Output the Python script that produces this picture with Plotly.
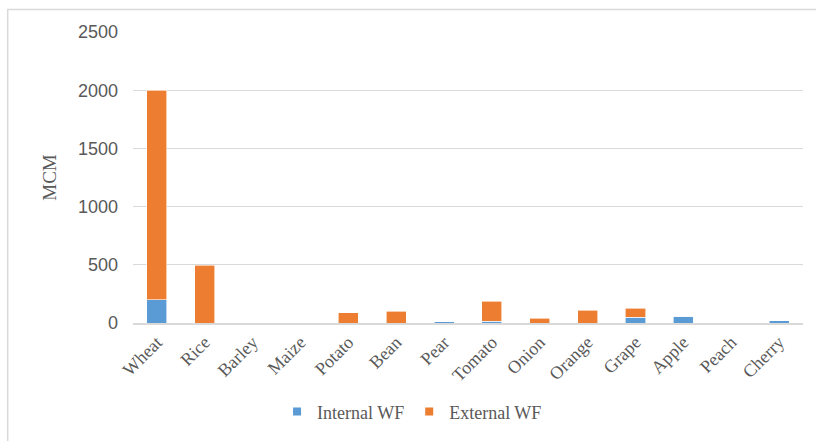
import plotly.graph_objects as go

crops = ["Wheat", "Rice", "Barley", "Maize", "Potato", "Bean", "Pear",
         "Tomato", "Onion", "Orange", "Grape", "Apple", "Peach", "Cherry"]
internal_wf = [200, 0, 0, 0, 0, 0, 10, 15, 0, 0, 50, 58, 0, 19]
external_wf = [1800, 495, 0, 0, 88, 102, 0, 170, 41, 110, 75, 0, 0, 0]
y_ticks = [0, 500, 1000, 1500, 2000, 2500]

serif = "Liberation Serif, Times New Roman, serif"
sans = "Liberation Sans, Arial, sans-serif"
blue = "#5B9BD5"
orange = "#ED7D31"

fig = go.Figure()
fig.add_trace(go.Bar(x=crops, y=internal_wf, name="Internal WF", showlegend=False,
                     marker=dict(color=blue, line=dict(color="#ffffff", width=0.6))))
fig.add_trace(go.Bar(x=crops, y=external_wf, name="External WF", showlegend=False,
                     marker=dict(color=orange, line=dict(color="#ffffff", width=0.6))))
# legend entries drawn as small square markers
for name, col in [("Internal WF", blue), ("External WF", orange)]:
    fig.add_trace(go.Scatter(x=[None], y=[None], mode="markers", name=name,
                             marker=dict(symbol="square", size=8, color=col)))

fig.update_layout(
    barmode="stack",
    bargap=0.58,
    width=816, height=441,
    margin=dict(l=133, r=13, t=32, b=117),
    paper_bgcolor="white", plot_bgcolor="white",
    showlegend=True,
    legend=dict(orientation="h", x=0.215, xanchor="left", y=-0.301, yanchor="middle",
                font=dict(family=serif, size=18, color="#595959"),
                itemwidth=30, traceorder="normal"),
    xaxis=dict(tickangle=-45, tickfont=dict(family=serif, size=18, color="#595959"),
               showgrid=False, showline=True, linecolor="#D9D9D9", linewidth=1.5,
               ticks=""),
    yaxis=dict(range=[0, 2500], tickvals=y_ticks, showgrid=True, gridcolor="#D9D9D9",
               gridwidth=1, zeroline=False, showline=False,
               tickfont=dict(family=sans, size=18, color="#595959"),
               ticklabelstandoff=14,
               title=dict(text="MCM", font=dict(family=serif, size=19, color="#595959"),
                          standoff=16)),
    shapes=[dict(type="rect", xref="paper", yref="paper",
                 x0=-0.187, x1=1.03, y0=-0.42, y1=1.077,
                 line=dict(color="#D9D9D9", width=1.5), fillcolor="rgba(0,0,0,0)",
                 layer="below")],
)

fig.write_html("out.html")
